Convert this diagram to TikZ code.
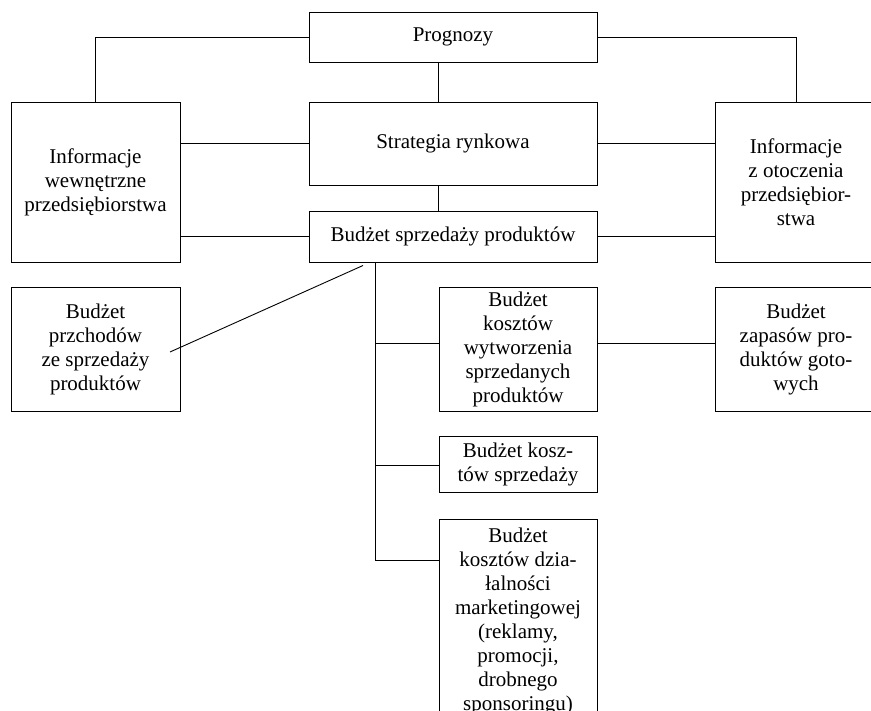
\documentclass[tikz,border=0pt]{standalone}
\usepackage{fontspec}
\setmainfont{Liberation Serif}
\begin{document}
\begin{tikzpicture}[x=1pt,y=-1pt,
  box/.style={draw, line width=0.9pt, inner sep=0pt, align=center,
    font=\fontsize{21}{24}\selectfont},
  txt/.style={inner sep=0pt, align=center, font=\fontsize{21}{24}\selectfont},
  conn/.style={line width=0.9pt}]
\useasboundingbox (0,0) rectangle (871,711);
\clip (0,0) rectangle (871,711);
\node[box, minimum width=288pt, minimum height=50pt] (prog) at (453,37) {Prognozy};
\node[box, minimum width=288pt, minimum height=83pt] (strat) at (453,143.5) {Strategia rynkowa};
\node[box, minimum width=288pt, minimum height=51pt] (bs) at (453,236.5) {Budżet sprzedaży produktów};
\node[box, minimum width=169pt, minimum height=160pt] (infl) at (95.5,182) {Informacje\\wewnętrzne\\przedsiębiorstwa};
\node[box, minimum width=162pt, minimum height=160pt] (infr) at (796,182) {Informacje\\z otoczenia\\przedsiębior-\\stwa};
\node[box, minimum width=169pt, minimum height=124pt] (bp) at (95.5,349) {Budżet\\przchodów\\ze sprzedaży\\produktów};
\node[box, minimum width=158pt, minimum height=124pt] (kw) at (518,349) {Budżet\\kosztów\\wytworzenia\\sprzedanych\\produktów};
\node[box, minimum width=162pt, minimum height=124pt] (zap) at (796,349) {Budżet\\zapasów pro-\\duktów goto-\\wych};
\node[box, minimum width=158pt, minimum height=56pt] (ks) at (518,464) {Budżet kosz-\\tów sprzedaży};
\node[box, minimum width=158pt, minimum height=221pt] (mk) at (518,629.5) {};
\node[txt, anchor=north] (mkt) at (518,527.5) {Budżet\\kosztów dzia-\\łalności\\marketingowej\\(reklamy,\\promocji,\\drobnego\\sponsoringu)};
\coordinate (t1) at (375,343);
\coordinate (t2) at (375,465);
\coordinate (t3) at (375,560);
\coordinate (d1) at (363,265.5);
\coordinate (d2) at (170,352);
\draw[conn] (prog.west) -| (infl.north);
\draw[conn] (prog.east) -| (infr.north);
\draw[conn] (prog.south -| kw.west) -- (strat.north -| kw.west);
\draw[conn] (strat.south -| kw.west) -- (bs.north -| kw.west);
\draw[conn] (strat.west) -- (strat.west -| infl.east);
\draw[conn] (strat.east) -- (strat.east -| infr.west);
\draw[conn] (bs.west) -- (bs.west -| infl.east);
\draw[conn] (bs.east) -- (bs.east -| infr.west);
\draw[conn] (bs.south -| t1) -- (t3);
\draw[conn] (t1) -- (t1 -| kw.west);
\draw[conn] (t2) -- (t2 -| ks.west);
\draw[conn] (t3) -- (t3 -| mk.west);
\draw[conn] (kw.east |- t1) -- (zap.west |- t1);
\draw[conn] (d1) -- (d2);
\end{tikzpicture}
\end{document}
